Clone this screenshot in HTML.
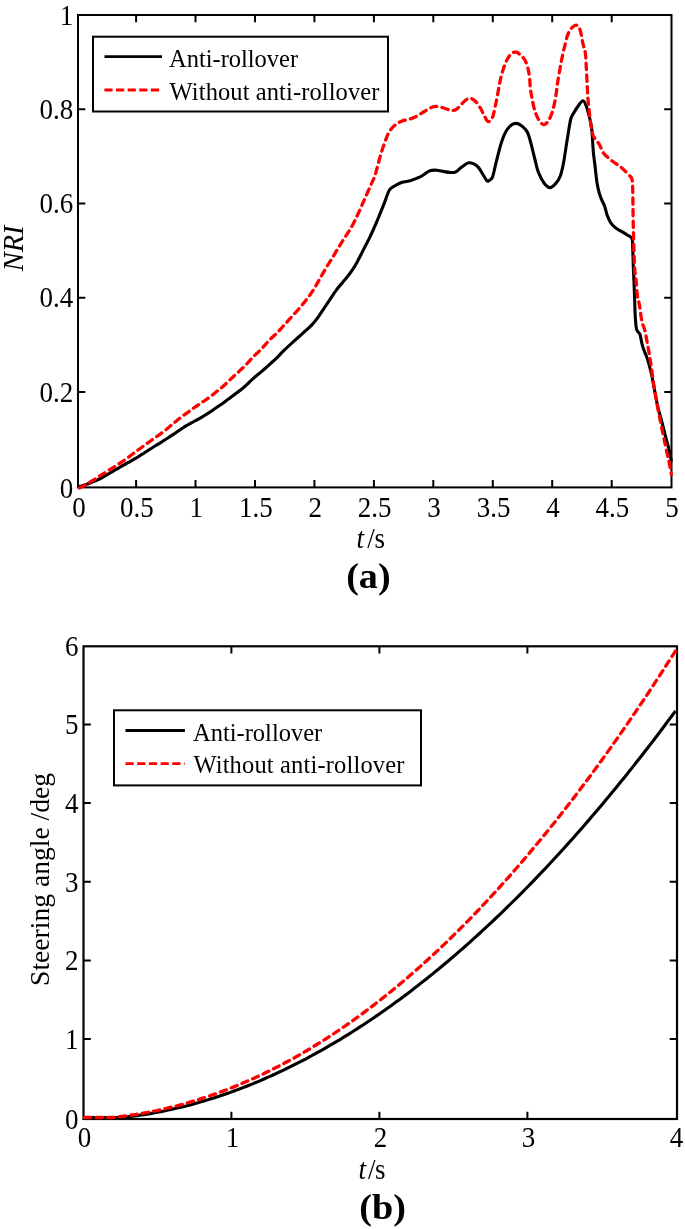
<!DOCTYPE html>
<html><head><meta charset="utf-8"><style>
html,body{margin:0;padding:0;background:#fff;}
body{width:685px;height:1229px;overflow:hidden;}
svg{display:block;filter:blur(0.35px);}
text{font-family:"Liberation Serif",serif;fill:#000;}
.t{font-size:27px;}
.l{font-size:24.5px;}
.b{font-size:38.2px;font-weight:bold;}
</style></head><body>
<svg width="685" height="1229" viewBox="0 0 685 1229">
<rect x="78.0" y="15.0" width="593.5" height="472.4" fill="none" stroke="#000" stroke-width="2"/>
<path d="M136.1 487.4V480.1M136.1 15.0V22.3" stroke="#000" stroke-width="2"/>
<path d="M195.5 487.4V480.1M195.5 15.0V22.3" stroke="#000" stroke-width="2"/>
<path d="M255.0 487.4V480.1M255.0 15.0V22.3" stroke="#000" stroke-width="2"/>
<path d="M314.4 487.4V480.1M314.4 15.0V22.3" stroke="#000" stroke-width="2"/>
<path d="M373.9 487.4V480.1M373.9 15.0V22.3" stroke="#000" stroke-width="2"/>
<path d="M433.3 487.4V480.1M433.3 15.0V22.3" stroke="#000" stroke-width="2"/>
<path d="M492.8 487.4V480.1M492.8 15.0V22.3" stroke="#000" stroke-width="2"/>
<path d="M552.2 487.4V480.1M552.2 15.0V22.3" stroke="#000" stroke-width="2"/>
<path d="M611.7 487.4V480.1M611.7 15.0V22.3" stroke="#000" stroke-width="2"/>
<path d="M78.0 391.9H85.3M671.5 391.9H664.2" stroke="#000" stroke-width="2"/>
<path d="M78.0 297.7H85.3M671.5 297.7H664.2" stroke="#000" stroke-width="2"/>
<path d="M78.0 203.4H85.3M671.5 203.4H664.2" stroke="#000" stroke-width="2"/>
<path d="M78.0 109.2H85.3M671.5 109.2H664.2" stroke="#000" stroke-width="2"/>
<path d="M78.5 486.8 C79.0 486.7 80.5 486.2 81.5 485.9 C82.5 485.6 83.5 485.3 84.5 485.0 C85.5 484.7 86.5 484.3 87.5 484.0 C88.5 483.6 89.5 483.2 90.5 482.8 C91.5 482.4 92.5 482.0 93.5 481.6 C94.5 481.2 95.5 480.8 96.5 480.3 C97.5 479.9 98.5 479.5 99.5 479.0 C100.5 478.5 101.5 478.0 102.5 477.4 C103.5 476.9 104.5 476.3 105.5 475.7 C106.5 475.1 107.5 474.5 108.5 473.9 C109.5 473.3 110.5 472.7 111.5 472.1 C112.5 471.5 113.5 470.9 114.5 470.3 C115.5 469.7 116.5 469.2 117.5 468.6 C118.5 468.0 119.5 467.4 120.5 466.9 C121.5 466.3 122.5 465.7 123.5 465.2 C124.5 464.6 125.5 464.0 126.5 463.5 C127.5 462.9 128.5 462.4 129.5 461.8 C130.5 461.3 131.5 460.7 132.5 460.1 C133.5 459.6 134.5 459.0 135.5 458.4 C136.5 457.8 137.5 457.2 138.5 456.6 C139.5 456.0 140.5 455.3 141.5 454.7 C142.5 454.1 143.5 453.4 144.5 452.8 C145.5 452.1 146.5 451.5 147.5 450.8 C148.5 450.2 149.5 449.5 150.5 448.9 C151.5 448.3 152.5 447.6 153.5 447.0 C154.5 446.4 155.5 445.7 156.5 445.1 C157.5 444.5 158.5 443.9 159.5 443.3 C160.5 442.7 161.5 442.1 162.5 441.4 C163.5 440.8 164.5 440.2 165.5 439.5 C166.5 438.9 167.5 438.2 168.5 437.6 C169.5 436.9 170.5 436.2 171.5 435.6 C172.5 434.9 173.5 434.3 174.5 433.6 C175.5 433.0 176.5 432.3 177.5 431.6 C178.5 430.9 179.5 430.2 180.5 429.5 C181.5 428.9 182.5 428.1 183.5 427.5 C184.5 426.8 185.5 426.2 186.5 425.6 C187.5 425.0 188.5 424.5 189.5 423.9 C190.5 423.4 191.5 422.8 192.5 422.3 C193.5 421.8 194.5 421.2 195.5 420.7 C196.5 420.1 197.5 419.6 198.5 419.0 C199.5 418.5 200.5 417.9 201.5 417.3 C202.5 416.7 203.5 416.1 204.5 415.5 C205.5 414.9 206.5 414.3 207.5 413.7 C208.5 413.1 209.5 412.5 210.5 411.8 C211.5 411.1 212.5 410.4 213.5 409.7 C214.5 409.1 215.5 408.3 216.5 407.6 C217.5 406.9 218.5 406.2 219.5 405.5 C220.5 404.8 221.5 404.1 222.5 403.4 C223.5 402.7 224.5 402.0 225.5 401.2 C226.5 400.5 227.5 399.7 228.5 398.9 C229.5 398.2 230.5 397.5 231.5 396.7 C232.5 396.0 233.5 395.3 234.5 394.5 C235.5 393.8 236.5 393.1 237.5 392.3 C238.5 391.6 239.5 390.8 240.5 390.0 C241.5 389.2 242.5 388.5 243.5 387.6 C244.5 386.7 245.5 385.8 246.5 384.9 C247.5 383.9 248.5 382.9 249.5 382.0 C250.5 381.0 251.5 380.1 252.5 379.2 C253.5 378.3 254.5 377.4 255.5 376.5 C256.5 375.6 257.5 374.8 258.5 374.0 C259.5 373.2 260.5 372.5 261.5 371.6 C262.5 370.8 263.5 369.9 264.5 369.0 C265.5 368.1 266.5 367.2 267.5 366.3 C268.5 365.4 269.5 364.5 270.5 363.6 C271.5 362.7 272.5 361.8 273.5 360.9 C274.5 360.0 275.5 359.1 276.5 358.1 C277.5 357.2 278.5 356.1 279.5 355.1 C280.5 354.0 281.5 352.9 282.5 351.9 C283.5 350.8 284.5 349.9 285.5 349.0 C286.5 348.0 287.5 347.1 288.5 346.2 C289.5 345.2 290.5 344.3 291.5 343.4 C292.5 342.5 293.5 341.6 294.5 340.7 C295.5 339.8 296.5 338.9 297.5 338.0 C298.5 337.1 299.5 336.2 300.5 335.3 C301.5 334.4 302.5 333.5 303.5 332.6 C304.5 331.7 305.5 330.8 306.5 329.9 C307.5 329.0 308.5 328.1 309.5 327.1 C310.5 326.2 311.5 325.2 312.5 324.1 C313.5 323.0 314.5 321.9 315.5 320.6 C316.5 319.4 317.5 318.0 318.5 316.6 C319.5 315.2 320.5 313.7 321.5 312.2 C322.5 310.7 323.5 309.2 324.5 307.7 C325.5 306.1 326.5 304.6 327.5 303.1 C328.5 301.6 329.5 300.1 330.5 298.6 C331.5 297.1 332.5 295.6 333.5 294.1 C334.5 292.7 335.5 291.2 336.5 289.9 C337.5 288.6 338.5 287.3 339.5 286.1 C340.5 284.9 341.5 283.7 342.5 282.6 C343.5 281.4 344.5 280.3 345.5 279.1 C346.5 277.9 347.5 276.6 348.5 275.3 C349.5 274.0 350.5 272.6 351.5 271.1 C352.5 269.7 353.5 268.2 354.5 266.6 C355.5 264.9 356.5 263.2 357.5 261.4 C358.5 259.5 359.5 257.5 360.5 255.5 C361.5 253.6 362.5 251.6 363.5 249.6 C364.5 247.7 365.5 245.8 366.5 243.8 C367.5 241.8 368.5 239.9 369.5 237.8 C370.5 235.8 371.5 233.7 372.5 231.5 C373.5 229.3 374.5 227.0 375.5 224.7 C376.5 222.3 377.5 219.9 378.5 217.5 C379.5 215.1 380.5 212.6 381.5 210.1 C382.5 207.6 383.5 205.2 384.5 202.6 C385.5 200.0 386.5 196.7 387.4 194.5 C388.3 192.3 388.8 190.6 390.0 189.2 C391.2 187.8 392.6 187.1 394.5 186.0 C396.4 184.9 398.9 183.4 401.5 182.5 C404.1 181.6 407.7 181.4 410.3 180.7 C412.9 180.0 415.2 179.0 417.3 178.1 C419.4 177.2 420.6 176.7 422.6 175.5 C424.7 174.3 427.3 171.8 429.6 170.9 C431.9 170.0 434.3 170.1 436.6 170.2 C438.9 170.3 441.3 171.1 443.6 171.5 C445.9 171.9 448.6 172.4 450.6 172.5 C452.6 172.6 454.1 172.6 455.8 171.8 C457.6 171.0 459.1 169.1 461.1 167.6 C463.2 166.1 466.1 163.6 468.1 162.9 C470.2 162.2 471.6 162.9 473.4 163.7 C475.1 164.5 477.0 165.8 478.6 167.6 C480.2 169.4 481.7 172.5 483.0 174.6 C484.3 176.7 485.6 179.1 486.5 180.2 C487.4 181.3 487.5 181.6 488.5 181.1 C489.5 180.6 491.3 179.9 492.4 177.4 C493.5 174.9 494.3 169.7 495.3 165.8 C496.3 161.9 497.1 158.2 498.2 154.1 C499.3 150.0 500.5 144.9 501.9 141.0 C503.2 137.1 504.7 133.4 506.3 130.7 C507.9 128.0 509.7 126.1 511.4 124.9 C513.1 123.7 514.7 123.2 516.5 123.4 C518.3 123.7 520.5 124.9 522.3 126.4 C524.1 127.9 525.9 129.3 527.4 132.2 C528.9 135.1 529.9 139.5 531.1 143.9 C532.3 148.3 533.5 153.8 534.7 158.5 C535.9 163.2 536.8 168.2 538.4 172.3 C540.0 176.4 542.2 180.7 544.2 183.3 C546.2 185.9 548.2 187.7 550.1 187.7 C552.0 187.7 554.2 185.2 555.9 183.3 C557.6 181.4 559.0 179.4 560.3 176.0 C561.6 172.6 562.4 168.8 563.5 163.0 C564.6 157.2 565.8 148.2 567.0 141.1 C568.2 133.9 569.5 124.6 570.5 120.1 C571.5 115.6 571.9 116.2 573.1 114.0 C574.3 111.8 575.9 109.2 577.5 107.0 C579.1 104.8 581.3 101.0 582.8 100.8 C584.3 100.6 585.3 103.8 586.3 106.1 C587.3 108.4 588.0 111.4 588.9 114.9 C589.8 118.4 590.9 123.3 591.5 127.1 C592.1 130.9 592.1 133.5 592.4 137.6 C592.7 141.7 592.9 147.0 593.3 151.7 C593.7 156.4 594.4 160.8 595.0 165.7 C595.6 170.6 596.1 176.7 596.8 181.4 C597.5 186.1 598.5 190.5 599.4 193.7 C600.3 196.9 601.1 198.5 602.0 200.5 C602.9 202.5 603.6 203.4 604.5 205.8 C605.4 208.2 606.1 212.3 607.1 215.0 C608.1 217.7 609.1 220.1 610.4 222.2 C611.7 224.3 613.4 226.0 615.0 227.4 C616.6 228.8 618.2 229.5 620.2 230.7 C622.2 231.9 624.8 233.4 626.8 234.7 C628.8 236.0 631.0 236.4 632.0 238.6 C633.0 240.8 632.5 242.8 632.7 247.8 C632.9 252.8 633.2 263.1 633.4 268.8 C633.6 274.5 633.8 276.5 634.0 282.0 C634.2 287.5 634.5 295.8 634.7 301.7 C634.9 307.6 635.0 312.8 635.3 317.4 C635.6 322.0 635.9 326.7 636.6 329.3 C637.3 331.9 638.7 332.2 639.3 333.2 C639.9 334.2 639.6 332.9 640.2 335.2 C640.8 337.5 641.6 343.0 642.8 346.9 C644.0 350.8 645.9 354.2 647.3 358.6 C648.7 363.0 650.0 367.8 651.2 373.0 C652.4 378.2 653.4 384.3 654.5 389.9 C655.6 395.5 656.6 401.6 657.8 406.8 C659.0 412.0 660.4 416.1 661.7 421.1 C663.0 426.1 664.4 432.2 665.6 436.8 C666.8 441.4 667.8 444.4 668.8 448.5 C669.8 452.6 671.0 459.3 671.4 461.5" fill="none" stroke="#000" stroke-width="3.1" stroke-linejoin="round"/>
<path d="M79.5 487.9 C80.0 487.6 81.5 486.9 82.5 486.4 C83.5 485.9 84.5 485.3 85.5 484.8 C86.5 484.2 87.5 483.6 88.5 483.0 C89.5 482.4 90.5 481.8 91.5 481.2 C92.5 480.6 93.5 480.0 94.5 479.4 C95.5 478.7 96.5 478.1 97.5 477.5 C98.5 476.8 99.5 476.2 100.5 475.5 C101.5 474.9 102.5 474.3 103.5 473.6 C104.5 473.0 105.5 472.4 106.5 471.7 C107.5 471.1 108.5 470.5 109.5 469.8 C110.5 469.2 111.5 468.6 112.5 468.0 C113.5 467.3 114.5 466.7 115.5 466.1 C116.5 465.4 117.5 464.8 118.5 464.1 C119.5 463.5 120.5 462.8 121.5 462.1 C122.5 461.5 123.5 460.8 124.5 460.1 C125.5 459.4 126.5 458.7 127.5 457.9 C128.5 457.2 129.5 456.4 130.5 455.6 C131.5 454.9 132.5 454.1 133.5 453.4 C134.5 452.7 135.5 452.0 136.5 451.2 C137.5 450.5 138.5 449.8 139.5 449.0 C140.5 448.3 141.5 447.6 142.5 446.8 C143.5 446.1 144.5 445.3 145.5 444.6 C146.5 443.9 147.5 443.1 148.5 442.4 C149.5 441.7 150.5 441.0 151.5 440.2 C152.5 439.5 153.5 438.8 154.5 438.1 C155.5 437.4 156.5 436.7 157.5 436.0 C158.5 435.3 159.5 434.5 160.5 433.8 C161.5 433.1 162.5 432.4 163.5 431.6 C164.5 430.9 165.5 430.1 166.5 429.3 C167.5 428.5 168.5 427.6 169.5 426.8 C170.5 425.9 171.5 425.0 172.5 424.2 C173.5 423.3 174.5 422.5 175.5 421.7 C176.5 420.9 177.5 420.0 178.5 419.2 C179.5 418.4 180.5 417.6 181.5 416.9 C182.5 416.1 183.5 415.5 184.5 414.7 C185.5 414.0 186.5 413.3 187.5 412.6 C188.5 411.8 189.5 411.1 190.5 410.4 C191.5 409.7 192.5 408.9 193.5 408.2 C194.5 407.5 195.5 406.8 196.5 406.1 C197.5 405.4 198.5 404.7 199.5 404.0 C200.5 403.3 201.5 402.7 202.5 402.0 C203.5 401.4 204.5 400.7 205.5 400.1 C206.5 399.4 207.5 398.7 208.5 398.0 C209.5 397.2 210.5 396.5 211.5 395.7 C212.5 394.9 213.5 394.1 214.5 393.3 C215.5 392.5 216.5 391.7 217.5 390.9 C218.5 390.1 219.5 389.4 220.5 388.5 C221.5 387.7 222.5 386.9 223.5 386.0 C224.5 385.1 225.5 384.2 226.5 383.3 C227.5 382.3 228.5 381.3 229.5 380.3 C230.5 379.4 231.5 378.4 232.5 377.5 C233.5 376.5 234.5 375.6 235.5 374.7 C236.5 373.7 237.5 372.8 238.5 371.9 C239.5 370.9 240.5 370.0 241.5 369.1 C242.5 368.2 243.5 367.3 244.5 366.3 C245.5 365.3 246.5 364.1 247.5 363.1 C248.5 362.0 249.5 360.9 250.5 359.8 C251.5 358.7 252.5 357.7 253.5 356.7 C254.5 355.6 255.5 354.6 256.5 353.6 C257.5 352.7 258.5 351.9 259.5 350.9 C260.5 349.9 261.5 348.9 262.5 347.8 C263.5 346.7 264.5 345.5 265.5 344.4 C266.5 343.3 267.5 342.1 268.5 341.1 C269.5 340.0 270.5 339.0 271.5 338.0 C272.5 337.1 273.5 336.2 274.5 335.3 C275.5 334.4 276.5 333.5 277.5 332.5 C278.5 331.5 279.5 330.3 280.5 329.2 C281.5 328.1 282.5 326.9 283.5 325.8 C284.5 324.7 285.5 323.6 286.5 322.5 C287.5 321.4 288.5 320.3 289.5 319.2 C290.5 318.1 291.5 317.0 292.5 315.9 C293.5 314.8 294.5 313.7 295.5 312.6 C296.5 311.5 297.5 310.4 298.5 309.2 C299.5 308.1 300.5 306.9 301.5 305.7 C302.5 304.5 303.5 303.3 304.5 302.1 C305.5 300.8 306.5 299.6 307.5 298.3 C308.5 297.0 309.5 295.6 310.5 294.2 C311.5 292.7 312.5 291.2 313.5 289.7 C314.5 288.1 315.5 286.4 316.5 284.7 C317.5 283.0 318.5 281.2 319.5 279.4 C320.5 277.6 321.5 275.8 322.5 274.0 C323.5 272.3 324.5 270.6 325.5 268.9 C326.5 267.2 327.5 265.6 328.5 264.0 C329.5 262.4 330.5 260.8 331.5 259.2 C332.5 257.5 333.5 255.9 334.5 254.3 C335.5 252.6 336.5 250.9 337.5 249.3 C338.5 247.6 339.5 245.9 340.5 244.3 C341.5 242.7 342.5 241.1 343.5 239.5 C344.5 238.0 345.5 236.5 346.5 235.0 C347.5 233.4 348.5 231.9 349.5 230.3 C350.5 228.6 351.5 227.0 352.5 225.2 C353.5 223.3 354.5 221.4 355.5 219.4 C356.5 217.3 357.5 215.1 358.5 212.9 C359.5 210.8 360.5 208.5 361.5 206.2 C362.5 203.9 363.1 202.4 364.5 199.3 C365.9 196.3 368.2 191.0 369.6 187.9 C371.0 184.8 371.9 182.7 372.9 180.5 C373.8 178.3 374.0 178.8 375.3 174.6 C376.6 170.4 378.8 161.1 380.5 155.3 C382.2 149.5 384.3 143.5 385.8 139.6 C387.3 135.7 387.9 134.0 389.3 131.7 C390.8 129.3 392.5 127.2 394.5 125.5 C396.5 123.8 398.9 122.3 401.5 121.2 C404.1 120.1 407.7 119.8 410.3 118.9 C412.9 118.0 415.0 117.1 417.3 115.9 C419.6 114.7 422.0 112.9 424.3 111.5 C426.6 110.1 429.2 108.4 431.3 107.5 C433.4 106.6 434.6 106.2 436.6 106.3 C438.7 106.4 441.3 107.4 443.6 108.0 C445.9 108.6 448.6 109.8 450.6 110.1 C452.6 110.4 454.1 110.7 455.8 109.8 C457.6 108.9 459.3 106.2 461.1 104.5 C462.9 102.8 464.8 100.6 466.4 99.6 C468.0 98.6 469.2 98.2 470.7 98.4 C472.1 98.6 473.5 99.4 475.1 101.0 C476.7 102.6 478.9 105.7 480.4 108.0 C481.8 110.3 482.5 112.5 483.8 114.8 C485.1 117.0 486.6 121.0 488.0 121.5 C489.4 122.0 491.2 120.2 492.4 117.6 C493.6 115.0 494.3 110.3 495.3 105.9 C496.3 101.5 497.4 95.7 498.2 91.3 C499.0 86.9 499.5 83.4 500.4 79.6 C501.3 75.8 502.2 72.2 503.4 68.7 C504.6 65.2 506.2 61.1 507.7 58.5 C509.1 55.9 510.6 54.1 512.1 53.1 C513.6 52.1 515.0 51.8 516.5 52.2 C518.0 52.6 519.4 54.1 520.9 55.5 C522.4 56.9 524.1 58.4 525.3 60.7 C526.5 63.0 527.5 66.5 528.2 69.4 C528.9 72.3 529.2 75.0 529.6 78.2 C530.0 81.4 530.0 85.2 530.4 88.4 C530.8 91.6 531.1 93.6 531.8 97.2 C532.5 100.8 533.6 106.7 534.7 110.3 C535.8 113.9 536.9 116.7 538.4 119.1 C539.9 121.5 541.8 124.4 543.5 124.6 C545.2 124.8 547.0 123.0 548.6 120.5 C550.2 118.0 551.8 113.7 553.0 109.6 C554.2 105.5 555.2 100.0 555.9 95.7 C556.6 91.4 556.8 88.1 557.4 84.0 C558.0 79.9 558.8 75.3 559.6 71.0 C560.4 66.7 561.1 62.1 562.0 58.0 C562.9 53.9 563.7 50.1 564.7 46.1 C565.7 42.1 566.6 37.4 567.9 34.3 C569.2 31.2 570.8 28.8 572.3 27.3 C573.8 25.8 575.3 24.8 576.6 25.2 C577.9 25.6 579.1 26.9 580.1 29.9 C581.1 32.9 581.9 39.1 582.8 43.0 C583.7 46.9 584.8 49.4 585.4 53.5 C586.0 57.6 586.0 62.3 586.3 67.6 C586.6 72.9 586.9 79.8 587.2 85.1 C587.5 90.3 587.6 94.4 588.0 99.1 C588.4 103.8 588.9 108.4 589.4 113.1 C589.9 117.8 590.6 123.3 591.2 127.1 C591.9 130.9 591.9 133.0 593.3 135.9 C594.7 138.8 597.6 141.7 599.4 144.6 C601.1 147.5 601.6 150.6 603.8 153.4 C606.0 156.2 609.7 159.0 612.6 161.3 C615.5 163.6 618.7 165.2 621.3 167.4 C623.9 169.6 626.5 172.5 628.3 174.4 C630.0 176.3 631.1 176.2 631.8 178.8 C632.5 181.4 632.5 182.2 632.7 190.2 C633.0 198.2 633.0 213.7 633.3 226.8 C633.6 239.9 634.2 260.1 634.7 268.8 C635.2 277.6 635.6 274.9 636.0 279.3 C636.4 283.7 636.8 290.9 637.3 295.1 C637.8 299.3 638.5 299.9 639.3 304.3 C640.1 308.7 641.0 317.1 641.9 321.4 C642.8 325.7 643.7 325.8 644.7 330.0 C645.7 334.2 647.0 341.5 648.0 346.9 C649.0 352.3 649.6 356.2 650.6 362.5 C651.6 368.8 652.7 377.8 653.8 384.7 C654.9 391.6 656.0 398.1 657.1 404.2 C658.2 410.3 659.3 415.7 660.4 421.1 C661.5 426.5 662.5 431.6 663.6 436.8 C664.7 442.0 665.9 447.8 666.9 452.4 C667.9 456.9 668.8 460.4 669.5 464.1 C670.2 467.8 671.1 472.8 671.4 474.5" fill="none" stroke="#f00" stroke-width="3.3" stroke-dasharray="6.3 5.3" stroke-linecap="round" stroke-linejoin="round"/>
<g transform="translate(0 516.60) scale(1 1.060) translate(0 -516.60)"><text x="79.0" y="516.6" class="t" text-anchor="middle">0</text></g>
<g transform="translate(0 516.60) scale(1 1.060) translate(0 -516.60)"><text x="136.9" y="516.6" class="t" text-anchor="middle">0.5</text></g>
<g transform="translate(0 516.60) scale(1 1.060) translate(0 -516.60)"><text x="196.3" y="516.6" class="t" text-anchor="middle">1</text></g>
<g transform="translate(0 516.60) scale(1 1.060) translate(0 -516.60)"><text x="255.8" y="516.6" class="t" text-anchor="middle">1.5</text></g>
<g transform="translate(0 516.60) scale(1 1.060) translate(0 -516.60)"><text x="315.2" y="516.6" class="t" text-anchor="middle">2</text></g>
<g transform="translate(0 516.60) scale(1 1.060) translate(0 -516.60)"><text x="374.7" y="516.6" class="t" text-anchor="middle">2.5</text></g>
<g transform="translate(0 516.60) scale(1 1.060) translate(0 -516.60)"><text x="434.1" y="516.6" class="t" text-anchor="middle">3</text></g>
<g transform="translate(0 516.60) scale(1 1.060) translate(0 -516.60)"><text x="493.6" y="516.6" class="t" text-anchor="middle">3.5</text></g>
<g transform="translate(0 516.60) scale(1 1.060) translate(0 -516.60)"><text x="553.0" y="516.6" class="t" text-anchor="middle">4</text></g>
<g transform="translate(0 516.60) scale(1 1.060) translate(0 -516.60)"><text x="612.5" y="516.6" class="t" text-anchor="middle">4.5</text></g>
<g transform="translate(0 516.60) scale(1 1.060) translate(0 -516.60)"><text x="671.9" y="516.6" class="t" text-anchor="middle">5</text></g>
<g transform="translate(0 498.20) scale(1 1.060) translate(0 -498.20)"><text x="73.2" y="498.2" class="t" text-anchor="end">0</text></g>
<g transform="translate(0 401.70) scale(1 1.060) translate(0 -401.70)"><text x="73.2" y="401.7" class="t" text-anchor="end">0.2</text></g>
<g transform="translate(0 307.50) scale(1 1.060) translate(0 -307.50)"><text x="73.2" y="307.5" class="t" text-anchor="end">0.4</text></g>
<g transform="translate(0 213.20) scale(1 1.060) translate(0 -213.20)"><text x="73.2" y="213.2" class="t" text-anchor="end">0.6</text></g>
<g transform="translate(0 119.00) scale(1 1.060) translate(0 -119.00)"><text x="73.2" y="119.0" class="t" text-anchor="end">0.8</text></g>
<g transform="translate(0 24.70) scale(1 1.060) translate(0 -24.70)"><text x="73.2" y="24.7" class="t" text-anchor="end">1</text></g>
<g transform="translate(0 547.80) scale(1 1.060) translate(0 -547.80)"><text y="547.8" class="t"><tspan x="356.4" font-style="italic">t</tspan><tspan x="367.2">/</tspan><tspan x="374.4">s</tspan></text></g>
<text transform="translate(23 248.4) rotate(-90)" class="t" text-anchor="middle" font-style="italic" style="font-size:28.5px">NRI</text>
<g transform="translate(0 587.90) scale(1 0.930) translate(0 -587.90)"><text x="368.4" y="587.9" class="b" text-anchor="middle">(a)</text></g>
<rect x="93" y="36.7" width="295" height="74.8" fill="#fff" stroke="#000" stroke-width="2"/>
<path d="M104.5 56.6H162" stroke="#000" stroke-width="2.9"/>
<path d="M104.4 90H159.6" stroke="#f00" stroke-width="2.8" stroke-dasharray="8.2 3.42"/>
<g transform="translate(0 66.60) scale(1 1.060) translate(0 -66.60)"><text x="169" y="66.6" class="l" textLength="129.1">Anti-rollover</text></g>
<g transform="translate(0 100.50) scale(1 1.060) translate(0 -100.50)"><text x="169.6" y="100.5" class="l" textLength="209.8">Without anti-rollover</text></g>
<rect x="83.5" y="646.3" width="593.5" height="472.7" fill="none" stroke="#000" stroke-width="2.2"/>
<path d="M231.4 1119.0V1111.7M231.4 646.3V653.6" stroke="#000" stroke-width="2"/>
<path d="M379.4 1119.0V1111.7M379.4 646.3V653.6" stroke="#000" stroke-width="2"/>
<path d="M527.4 1119.0V1111.7M527.4 646.3V653.6" stroke="#000" stroke-width="2"/>
<path d="M83.5 1039.1H90.8M677.0 1039.1H669.7" stroke="#000" stroke-width="2"/>
<path d="M83.5 960.5H90.8M677.0 960.5H669.7" stroke="#000" stroke-width="2"/>
<path d="M83.5 881.8H90.8M677.0 881.8H669.7" stroke="#000" stroke-width="2"/>
<path d="M83.5 803.1H90.8M677.0 803.1H669.7" stroke="#000" stroke-width="2"/>
<path d="M83.5 724.5H90.8M677.0 724.5H669.7" stroke="#000" stroke-width="2"/>
<path d="M84.5 1117.6 L120.0 1117.6 L123.0 1117.3 L126.0 1117.0 L129.0 1116.6 L132.0 1116.3 L135.0 1115.9 L138.0 1115.4 L141.0 1115.0 L144.0 1114.6 L147.0 1114.1 L150.0 1113.6 L153.0 1113.1 L156.0 1112.5 L159.0 1112.0 L162.0 1111.4 L165.0 1110.8 L168.0 1110.1 L171.0 1109.5 L174.0 1108.8 L177.0 1108.1 L180.0 1107.4 L183.0 1106.7 L186.0 1105.9 L189.0 1105.2 L192.0 1104.4 L195.0 1103.5 L198.0 1102.7 L201.0 1101.8 L204.0 1101.0 L207.0 1100.1 L210.0 1099.1 L213.0 1098.2 L216.0 1097.2 L219.0 1096.2 L222.0 1095.2 L225.0 1094.2 L228.0 1093.2 L231.0 1092.1 L234.0 1091.0 L237.0 1089.9 L240.0 1088.8 L243.0 1087.6 L246.0 1086.5 L249.0 1085.3 L252.0 1084.1 L255.0 1082.8 L258.0 1081.6 L261.0 1080.3 L264.0 1079.0 L267.0 1077.7 L270.0 1076.4 L273.0 1075.0 L276.0 1073.6 L279.0 1072.2 L282.0 1070.8 L285.0 1069.4 L288.0 1067.9 L291.0 1066.4 L294.0 1064.9 L297.0 1063.4 L300.0 1061.9 L303.0 1060.3 L306.0 1058.8 L309.0 1057.2 L312.0 1055.5 L315.0 1053.9 L318.0 1052.2 L321.0 1050.6 L324.0 1048.9 L327.0 1047.2 L330.0 1045.4 L333.0 1043.7 L336.0 1041.9 L339.0 1040.1 L342.0 1038.3 L345.0 1036.4 L348.0 1034.6 L351.0 1032.7 L354.0 1030.8 L357.0 1028.9 L360.0 1026.9 L363.0 1025.0 L366.0 1023.0 L369.0 1021.0 L372.0 1019.0 L375.0 1016.9 L378.0 1014.9 L381.0 1012.8 L384.0 1010.7 L387.0 1008.6 L390.0 1006.4 L393.0 1004.3 L396.0 1002.1 L399.0 999.9 L402.0 997.7 L405.0 995.4 L408.0 993.2 L411.0 990.9 L414.0 988.6 L417.0 986.3 L420.0 983.9 L423.0 981.6 L426.0 979.2 L429.0 976.8 L432.0 974.4 L435.0 971.9 L438.0 969.5 L441.0 967.0 L444.0 964.5 L447.0 962.0 L450.0 959.5 L453.0 956.9 L456.0 954.3 L459.0 951.7 L462.0 949.1 L465.0 946.5 L468.0 943.8 L471.0 941.1 L474.0 938.4 L477.0 935.7 L480.0 933.0 L483.0 930.2 L486.0 927.4 L489.0 924.6 L492.0 921.8 L495.0 919.0 L498.0 916.1 L501.0 913.3 L504.0 910.4 L507.0 907.4 L510.0 904.5 L513.0 901.5 L516.0 898.6 L519.0 895.6 L522.0 892.6 L525.0 889.5 L528.0 886.5 L531.0 883.4 L534.0 880.3 L537.0 877.2 L540.0 874.0 L543.0 870.9 L546.0 867.7 L549.0 864.5 L552.0 861.3 L555.0 858.0 L558.0 854.8 L561.0 851.5 L564.0 848.2 L567.0 844.9 L570.0 841.5 L573.0 838.2 L576.0 834.8 L579.0 831.4 L582.0 828.0 L585.0 824.5 L588.0 821.1 L591.0 817.6 L594.0 814.1 L597.0 810.5 L600.0 807.0 L603.0 803.4 L606.0 799.8 L609.0 796.2 L612.0 792.6 L615.0 789.0 L618.0 785.3 L621.0 781.6 L624.0 777.9 L627.0 774.2 L630.0 770.4 L633.0 766.6 L636.0 762.8 L639.0 759.0 L642.0 755.2 L645.0 751.3 L648.0 747.5 L651.0 743.6 L654.0 739.7 L657.0 735.7 L660.0 731.8 L663.0 727.8 L666.0 723.8 L669.0 719.7 L672.0 715.7 L675.0 711.6 L675.5 711.0" fill="none" stroke="#000" stroke-width="3.1" stroke-linejoin="round"/>
<path d="M84.5 1117.5 L112.0 1117.5 L115.0 1117.2 L118.0 1116.8 L121.0 1116.5 L124.0 1116.1 L127.0 1115.7 L130.0 1115.3 L133.0 1114.8 L136.0 1114.4 L139.0 1113.9 L142.0 1113.3 L145.0 1112.8 L148.0 1112.3 L151.0 1111.7 L154.0 1111.1 L157.0 1110.5 L160.0 1109.8 L163.0 1109.1 L166.0 1108.5 L169.0 1107.7 L172.0 1107.0 L175.0 1106.3 L178.0 1105.5 L181.0 1104.7 L184.0 1103.8 L187.0 1103.0 L190.0 1102.1 L193.0 1101.2 L196.0 1100.3 L199.0 1099.4 L202.0 1098.4 L205.0 1097.5 L208.0 1096.5 L211.0 1095.4 L214.0 1094.4 L217.0 1093.3 L220.0 1092.2 L223.0 1091.1 L226.0 1090.0 L229.0 1088.8 L232.0 1087.6 L235.0 1086.4 L238.0 1085.2 L241.0 1083.9 L244.0 1082.6 L247.0 1081.3 L250.0 1080.0 L253.0 1078.7 L256.0 1077.3 L259.0 1075.9 L262.0 1074.5 L265.0 1073.1 L268.0 1071.6 L271.0 1070.1 L274.0 1068.6 L277.0 1067.1 L280.0 1065.5 L283.0 1063.9 L286.0 1062.3 L289.0 1060.7 L292.0 1059.1 L295.0 1057.4 L298.0 1055.7 L301.0 1054.0 L304.0 1052.2 L307.0 1050.5 L310.0 1048.7 L313.0 1046.9 L316.0 1045.0 L319.0 1043.2 L322.0 1041.3 L325.0 1039.4 L328.0 1037.5 L331.0 1035.5 L334.0 1033.5 L337.0 1031.5 L340.0 1029.5 L343.0 1027.4 L346.0 1025.4 L349.0 1023.3 L352.0 1021.2 L355.0 1019.0 L358.0 1016.8 L361.0 1014.7 L364.0 1012.4 L367.0 1010.2 L370.0 1007.9 L373.0 1005.7 L376.0 1003.3 L379.0 1001.0 L382.0 998.6 L385.0 996.3 L388.0 993.9 L391.0 991.4 L394.0 989.0 L397.0 986.5 L400.0 984.0 L403.0 981.5 L406.0 978.9 L409.0 976.3 L412.0 973.7 L415.0 971.1 L418.0 968.5 L421.0 965.8 L424.0 963.1 L427.0 960.4 L430.0 957.6 L433.0 954.9 L436.0 952.1 L439.0 949.3 L442.0 946.4 L445.0 943.6 L448.0 940.7 L451.0 937.8 L454.0 934.8 L457.0 931.9 L460.0 928.9 L463.0 925.9 L466.0 922.8 L469.0 919.8 L472.0 916.7 L475.0 913.6 L478.0 910.5 L481.0 907.3 L484.0 904.1 L487.0 900.9 L490.0 897.7 L493.0 894.4 L496.0 891.2 L499.0 887.9 L502.0 884.5 L505.0 881.2 L508.0 877.8 L511.0 874.4 L514.0 871.0 L517.0 867.5 L520.0 864.1 L523.0 860.6 L526.0 857.1 L529.0 853.5 L532.0 849.9 L535.0 846.3 L538.0 842.7 L541.0 839.1 L544.0 835.4 L547.0 831.7 L550.0 828.0 L553.0 824.3 L556.0 820.5 L559.0 816.7 L562.0 812.9 L565.0 809.1 L568.0 805.2 L571.0 801.3 L574.0 797.4 L577.0 793.5 L580.0 789.5 L583.0 785.6 L586.0 781.5 L589.0 777.5 L592.0 773.5 L595.0 769.4 L598.0 765.3 L601.0 761.2 L604.0 757.0 L607.0 752.8 L610.0 748.6 L613.0 744.4 L616.0 740.1 L619.0 735.9 L622.0 731.6 L625.0 727.3 L628.0 722.9 L631.0 718.5 L634.0 714.1 L637.0 709.7 L640.0 705.3 L643.0 700.8 L646.0 696.3 L649.0 691.8 L652.0 687.3 L655.0 682.7 L658.0 678.1 L661.0 673.5 L664.0 668.9 L667.0 664.2 L670.0 659.5 L673.0 654.8 L675.6 650.7" fill="none" stroke="#f00" stroke-width="3.3" stroke-dasharray="6.3 5.3" stroke-linecap="round" stroke-linejoin="round"/>
<g transform="translate(0 1147.50) scale(1 1.060) translate(0 -1147.50)"><text x="84.6" y="1147.5" class="t" text-anchor="middle">0</text></g>
<g transform="translate(0 1147.50) scale(1 1.060) translate(0 -1147.50)"><text x="232.6" y="1147.5" class="t" text-anchor="middle">1</text></g>
<g transform="translate(0 1147.50) scale(1 1.060) translate(0 -1147.50)"><text x="380.6" y="1147.5" class="t" text-anchor="middle">2</text></g>
<g transform="translate(0 1147.50) scale(1 1.060) translate(0 -1147.50)"><text x="528.6" y="1147.5" class="t" text-anchor="middle">3</text></g>
<g transform="translate(0 1147.50) scale(1 1.060) translate(0 -1147.50)"><text x="676.6" y="1147.5" class="t" text-anchor="middle">4</text></g>
<g transform="translate(0 1129.30) scale(1 1.060) translate(0 -1129.30)"><text x="78.5" y="1129.3" class="t" text-anchor="end">0</text></g>
<g transform="translate(0 1048.90) scale(1 1.060) translate(0 -1048.90)"><text x="78.5" y="1048.9" class="t" text-anchor="end">1</text></g>
<g transform="translate(0 970.20) scale(1 1.060) translate(0 -970.20)"><text x="78.5" y="970.2" class="t" text-anchor="end">2</text></g>
<g transform="translate(0 891.60) scale(1 1.060) translate(0 -891.60)"><text x="78.5" y="891.6" class="t" text-anchor="end">3</text></g>
<g transform="translate(0 812.90) scale(1 1.060) translate(0 -812.90)"><text x="78.5" y="812.9" class="t" text-anchor="end">4</text></g>
<g transform="translate(0 734.30) scale(1 1.060) translate(0 -734.30)"><text x="78.5" y="734.3" class="t" text-anchor="end">5</text></g>
<g transform="translate(0 655.60) scale(1 1.060) translate(0 -655.60)"><text x="78.5" y="655.6" class="t" text-anchor="end">6</text></g>
<g transform="translate(0 1178.60) scale(1 1.060) translate(0 -1178.60)"><text y="1178.6" class="t"><tspan x="358.6" font-style="italic">t</tspan><tspan x="368">/</tspan><tspan x="375">s</tspan></text></g>
<text transform="translate(49 879.4) rotate(-90)" class="t" text-anchor="middle" style="font-size:27.6px">Steering angle /deg</text>
<g transform="translate(0 1219.40) scale(1 0.930) translate(0 -1219.40)"><text x="382.7" y="1219.4" class="b" text-anchor="middle">(b)</text></g>
<rect x="114" y="710.3" width="307" height="75.1" fill="#fff" stroke="#000" stroke-width="2"/>
<path d="M125.5 730.5H185" stroke="#000" stroke-width="2.9"/>
<path d="M125.5 763.6H184.6" stroke="#f00" stroke-width="2.8" stroke-dasharray="8.2 3.5"/>
<g transform="translate(0 740.60) scale(1 1.060) translate(0 -740.60)"><text x="193" y="740.6" class="l" textLength="129.2">Anti-rollover</text></g>
<g transform="translate(0 773.30) scale(1 1.060) translate(0 -773.30)"><text x="193.4" y="773.3" class="l" textLength="211">Without anti-rollover</text></g>
</svg>
</body></html>
